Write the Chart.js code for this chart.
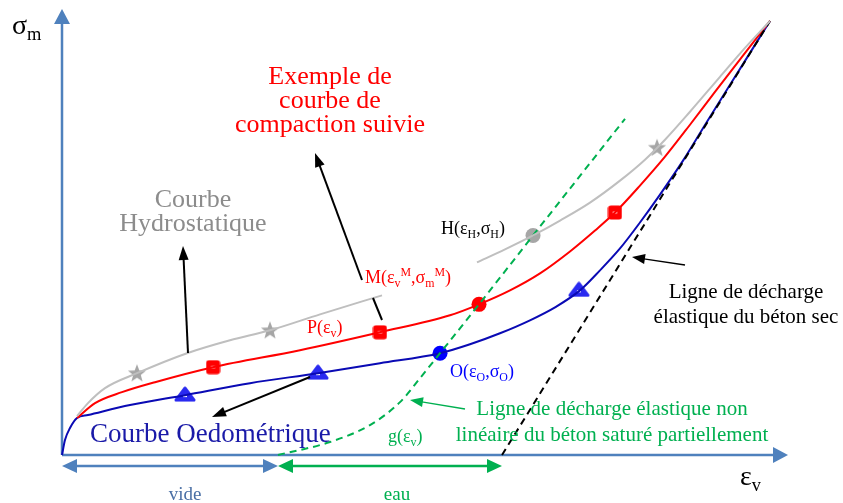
<!DOCTYPE html>
<html><head><meta charset="utf-8">
<script src="https://cdn.jsdelivr.net/npm/chart.js@4/dist/chart.umd.min.js"></script>
<style>html,body{margin:0;padding:0;background:#fff;}canvas{display:block}</style>
</head><body>
<canvas id="c" width="843" height="503"></canvas>
<script>
// ---- data (schematic units: εv 0..100, σm 0..100) ----
const oedoX = [0, 0.41, 1.10, 2.07, 3.58, 9.37, 16.94, 25.90, 35.26, 43.80, 52.07, 56.20, 60.33, 64.46, 67.91, 71.35, 74.10, 76.86, 79.61, 82.37, 85.54, 88.84, 93.39, 97.52];
const oedoY = [0, 3.36, 6.04, 8.28, 8.95, 11.19, 13.42, 16.11, 18.34, 20.58, 22.82, 24.83, 27.29, 30.20, 33.11, 36.91, 41.39, 46.31, 52.13, 58.39, 66.0, 74.72, 86.58, 97.32];

const compX = [2.07, 4.55, 8.26, 12.81, 20.80, 32.78, 43.80, 53.44, 57.44, 61.71, 65.84, 69.97, 73.42, 76.17, 79.61, 83.06, 86.50, 89.94, 93.66, 97.52];
const compY = [8.28, 11.63, 14.09, 16.33, 19.69, 23.49, 27.52, 31.32, 33.78, 36.91, 40.72, 45.64, 50.34, 54.36, 60.40, 66.89, 74.05, 81.43, 89.26, 97.32];

const hydroX1 = [2.07, 3.58, 5.92, 10.33, 17.22, 23.14, 28.65, 35.54, 44.08];
const hydroY1 = [8.72, 11.63, 14.99, 18.34, 22.82, 25.73, 27.96, 31.54, 35.79];
const hydroX2 = [57.16, 61.02, 64.88, 68.60, 72.73, 76.86, 80.30, 83.06, 86.50, 90.63, 94.08, 97.52];
const hydroY2 = [43.18, 46.09, 49.22, 52.57, 56.60, 61.52, 66.22, 70.69, 76.96, 84.79, 91.28, 97.32];

const gX = [29.75, 36.91, 42.42, 46.56, 49.31, 52.07, 57.44, 64.88, 77.55];
const gY = [0, 2.91, 6.71, 11.86, 17.23, 22.82, 33.78, 49.22, 75.39];

const dryX = [60.61, 97.52];
const dryY = [0, 97.32];

const starX = [10.33, 28.65, 81.96];
const starY = [18.34, 27.96, 68.90];
const squareX = [20.80, 43.80, 76.17];
const squareY = [19.69, 27.52, 54.36];
const triX = [16.94, 35.26, 71.20];
const triY = [13.65, 18.57, 37.14];

const pointM = [57.44, 33.78];
const pointO = [52.07, 22.82];
const pointH = [64.88, 49.22];

// ---- helpers ----
const zip = (xs, ys) => xs.map((x, i) => ({x: x, y: ys[i]}));
const FONT = '"Liberation Serif", "Times New Roman", serif';

function mkCanvas(w, h, fn) {
  const c = document.createElement('canvas');
  c.width = w; c.height = h;
  fn(c.getContext('2d'));
  return c;
}
const starImg = mkCanvas(20, 20, ctx => {
  ctx.fillStyle = '#a6a6a6';
  ctx.beginPath();
  for (let i = 0; i < 10; i++) {
    const r = i % 2 === 0 ? 9.5 : 4;
    const a = -Math.PI / 2 + i * Math.PI / 5;
    const px = 10 + r * Math.cos(a), py = 10.5 + r * Math.sin(a);
    i === 0 ? ctx.moveTo(px, py) : ctx.lineTo(px, py);
  }
  ctx.closePath(); ctx.fill();
});
const squareImg = mkCanvas(15, 15, ctx => {
  ctx.fillStyle = '#ff0000';
  ctx.beginPath();
  ctx.roundRect(0.5, 0.5, 14, 14, 3);
  ctx.fill();
  ctx.fillStyle = '#ffffff';
  ctx.fillRect(5.5, 6.5, 4, 2);
});
const triImg = mkCanvas(22, 16, ctx => {
  ctx.fillStyle = '#2a2af0';
  ctx.strokeStyle = '#2a2af0';
  ctx.lineJoin = 'round';
  ctx.lineWidth = 3;
  ctx.beginPath();
  ctx.moveTo(11, 2); ctx.lineTo(20, 14); ctx.lineTo(2, 14); ctx.closePath();
  ctx.fill(); ctx.stroke();
  ctx.fillStyle = '#ffffff';
  ctx.fillRect(9, 9, 4, 2);
});

function lineDs(xs, ys, color, extra) {
  return Object.assign({
    type: 'line', data: zip(xs, ys), borderColor: color, borderWidth: 2,
    pointRadius: 0, fill: false, cubicInterpolationMode: 'monotone', clip: false
  }, extra || {});
}
function markDs(xs, ys, style, extra) {
  return Object.assign({
    type: 'scatter', data: zip(xs, ys), pointStyle: style, pointRadius: 8,
    showLine: false, clip: false
  }, extra || {});
}

function richText(ctx, parts, x, y, size, color, align) {
  const small = size * 0.66;
  let w = 0;
  const items = parts.map(p => {
    const s = p[1] === 'n' ? size : small;
    ctx.font = s + 'px ' + FONT;
    const wd = ctx.measureText(p[0]).width;
    w += wd;
    return {t: p[0], s: s, m: p[1], wd: wd};
  });
  let cx = align === 'center' ? x - w / 2 : x;
  ctx.fillStyle = color;
  ctx.textAlign = 'left';
  ctx.textBaseline = 'alphabetic';
  items.forEach(it => {
    ctx.font = it.s + 'px ' + FONT;
    let dy = 0;
    if (it.m === 'b') dy = size * 0.2;
    if (it.m === 'p') dy = -size * 0.38;
    ctx.fillText(it.t, cx, y + dy);
    cx += it.wd;
  });
}
function text(ctx, s, x, y, size, color, align) {
  richText(ctx, [[s, 'n']], x, y, size, color, align);
}
function head(ctx, x1, y1, x2, y2, color, len, wid) {
  const a = Math.atan2(y2 - y1, x2 - x1);
  ctx.fillStyle = color;
  ctx.beginPath();
  ctx.moveTo(x2, y2);
  ctx.lineTo(x2 - len * Math.cos(a) + wid / 2 * Math.sin(a), y2 - len * Math.sin(a) - wid / 2 * Math.cos(a));
  ctx.lineTo(x2 - len * Math.cos(a) - wid / 2 * Math.sin(a), y2 - len * Math.sin(a) + wid / 2 * Math.cos(a));
  ctx.closePath(); ctx.fill();
}
function seg(ctx, x1, y1, x2, y2, color, lw) {
  ctx.strokeStyle = color; ctx.lineWidth = lw; ctx.setLineDash([]);
  ctx.beginPath(); ctx.moveTo(x1, y1); ctx.lineTo(x2, y2); ctx.stroke();
}
function arrow(ctx, x1, y1, x2, y2, color, lw, len, wid) {
  const a = Math.atan2(y2 - y1, x2 - x1);
  seg(ctx, x1, y1, x2 - (len - 1) * Math.cos(a), y2 - (len - 1) * Math.sin(a), color, lw);
  head(ctx, x1, y1, x2, y2, color, len, wid);
}
function dblArrow(ctx, x1, y, x2, color, lw, len, wid) {
  seg(ctx, x1 + len - 1, y, x2 - len + 1, y, color, lw);
  head(ctx, x2, y, x1, y, color, len, wid);
  head(ctx, x1, y, x2, y, color, len, wid);
}

const decor = {
  id: 'decor',
  beforeDatasetsDraw(chart) {
    const ctx = chart.ctx, a = chart.chartArea;
    ctx.save();
    const axC = '#4f81bd';
    seg(ctx, a.left, a.bottom, a.left, a.top + 14, axC, 2.5);
    head(ctx, a.left, a.bottom, a.left, a.top, axC, 15, 16);
    seg(ctx, a.left, a.bottom, a.right - 14, a.bottom, axC, 2.5);
    head(ctx, a.left, a.bottom, a.right, a.bottom, axC, 15, 16);
    ctx.restore();
  },
  afterDatasetsDraw(chart) {
    const ctx = chart.ctx;
    ctx.save();
    richText(ctx, [['σ', 'n'], ['m', 'b']], 12, 34, 28, '#000', 'left');
    richText(ctx, [['ε', 'n'], ['v', 'b']], 740, 485, 28, '#000', 'left');
    text(ctx, 'Exemple de', 330, 84, 26, '#ff0000', 'center');
    text(ctx, 'courbe de', 330, 108, 26, '#ff0000', 'center');
    text(ctx, 'compaction suivie', 330, 132, 26, '#ff0000', 'center');
    text(ctx, 'Courbe', 193, 207, 26, '#8c8c8c', 'center');
    text(ctx, 'Hydrostatique', 193, 231, 26, '#8c8c8c', 'center');
    richText(ctx, [['H(ε', 'n'], ['H', 'b'], [',σ', 'n'], ['H', 'b'], [')', 'n']], 441, 234, 18, '#000', 'left');
    richText(ctx, [['M(ε', 'n'], ['v', 'b'], ['M', 'p'], [',σ', 'n'], ['m', 'b'], ['M', 'p'], [')', 'n']], 365, 283, 18, '#ff0000', 'left');
    richText(ctx, [['P(ε', 'n'], ['v', 'b'], [')', 'n']], 307, 333, 18, '#ff0000', 'left');
    richText(ctx, [['O(ε', 'n'], ['O', 'b'], [',σ', 'n'], ['O', 'b'], [')', 'n']], 450, 377, 18, '#0000ff', 'left');
    richText(ctx, [['g(ε', 'n'], ['v', 'b'], [')', 'n']], 388, 442, 18, '#00b050', 'left');
    text(ctx, 'Courbe Oedométrique', 90, 442, 27, '#1a1aa8', 'left');
    text(ctx, 'Ligne de décharge élastique non', 612, 415, 21, '#00b050', 'center');
    text(ctx, 'linéaire du béton saturé partiellement', 612, 441, 21, '#00b050', 'center');
    text(ctx, 'Ligne de décharge', 746, 298, 21, '#000', 'center');
    text(ctx, 'élastique du béton sec', 746, 323, 21, '#000', 'center');
    text(ctx, 'vide', 185, 500, 19, '#4a6fa5', 'center');
    text(ctx, 'eau', 397, 500, 19, '#00b050', 'center');
    arrow(ctx, 188, 353, 183, 246, '#000', 2, 14, 10);
    seg(ctx, 382, 320, 373, 298, '#000', 2);
    arrow(ctx, 362, 280, 315, 153, '#000', 2, 14, 10);
    arrow(ctx, 310, 377, 212, 417, '#000', 2, 14, 10);
    arrow(ctx, 465, 409, 410, 400, '#00b050', 1.3, 13, 10);
    arrow(ctx, 685, 265, 632, 257, '#000', 1.3, 13, 10);
    dblArrow(ctx, 62, 466, 278, '#4f81bd', 2.5, 15, 14);
    dblArrow(ctx, 278, 466, 502, '#00b050', 2.5, 15, 14);
    ctx.restore();
  }
};

new Chart(document.getElementById('c'), {
  data: {
    datasets: [
      lineDs(hydroX1, hydroY1, '#bfbfbf'),
      lineDs(hydroX2, hydroY2, '#bfbfbf'),
      lineDs(gX, gY, '#00b050', {borderDash: [7, 5]}),
      lineDs(dryX, dryY, '#000000', {borderDash: [7, 5], cubicInterpolationMode: 'default', tension: 0}),
      lineDs(compX, compY, '#ff0000'),
      lineDs(oedoX, oedoY, '#0a0ab4'),
      markDs(starX, starY, starImg),
      markDs(squareX, squareY, squareImg),
      markDs(triX, triY, triImg),
      markDs([pointM[0]], [pointM[1]], 'circle', {pointRadius: 7.5, backgroundColor: '#ff0000', borderColor: '#ff0000', borderWidth: 0}),
      markDs([pointO[0]], [pointO[1]], 'circle', {pointRadius: 7.5, backgroundColor: '#0000ff', borderColor: '#0000ff', borderWidth: 0}),
      markDs([pointH[0]], [pointH[1]], 'circle', {pointRadius: 7.5, backgroundColor: '#a6a6a6', borderColor: '#a6a6a6', borderWidth: 0})
    ]
  },
  options: {
    responsive: false, animation: false, devicePixelRatio: 1,
    layout: {padding: {left: 62, right: 55, top: 8, bottom: 48}},
    scales: {
      x: {type: 'linear', min: 0, max: 100, display: false},
      y: {type: 'linear', min: 0, max: 100, display: false}
    },
    plugins: {legend: {display: false}, tooltip: {enabled: false}},
    events: []
  },
  plugins: [decor]
});
</script>
</body></html>
